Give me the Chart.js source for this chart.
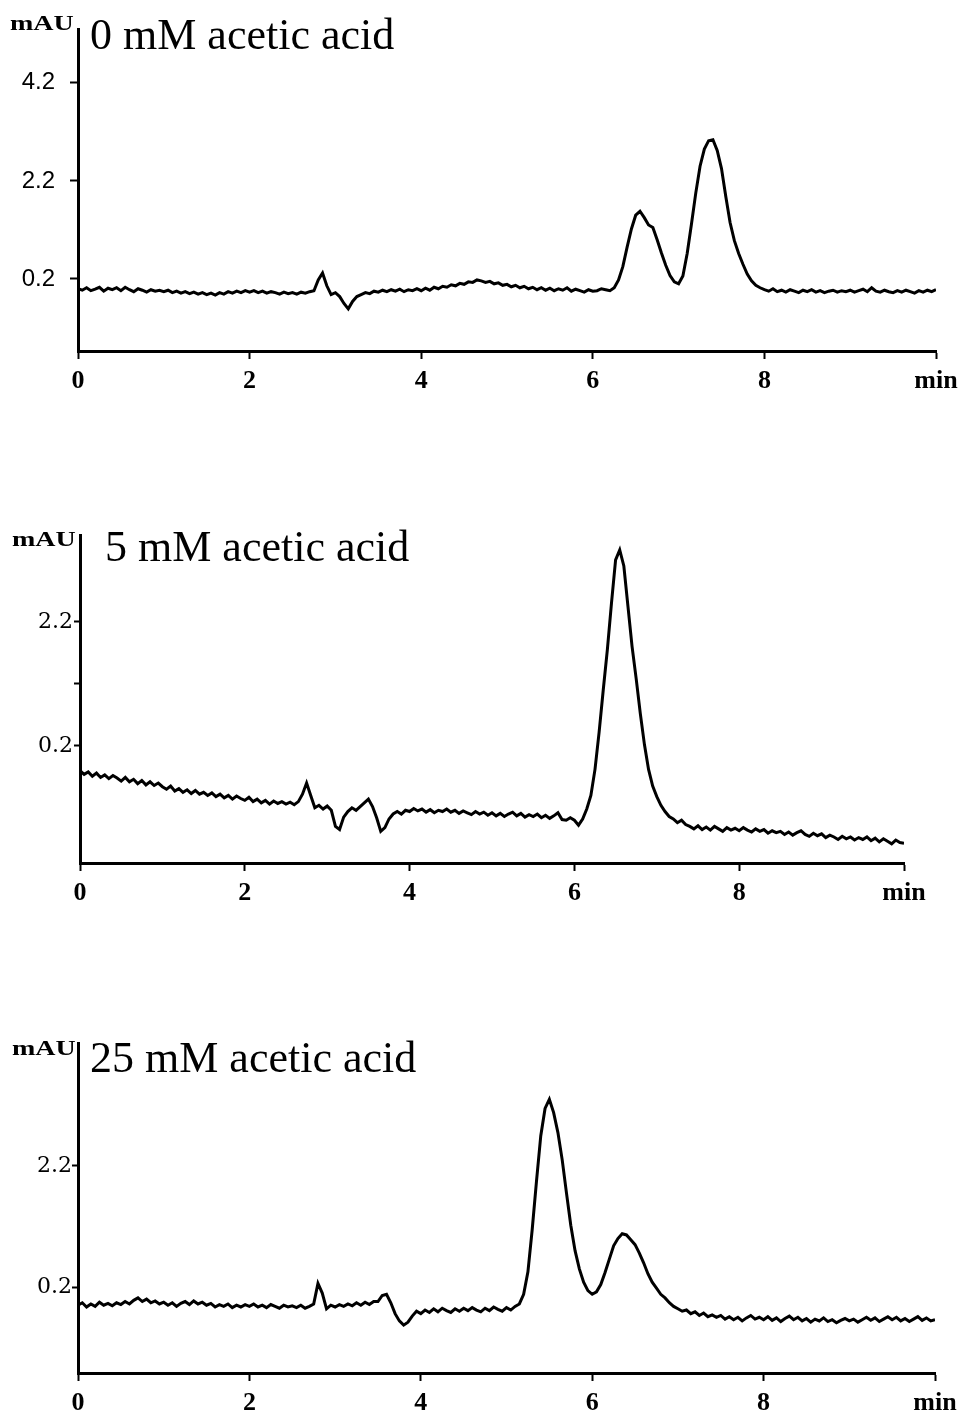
<!DOCTYPE html>
<html>
<head>
<meta charset="utf-8">
<title>Chromatograms with acetic acid</title>
<script src="https://cdn.jsdelivr.net/npm/chart.js@4.4.1/dist/chart.umd.min.js"></script>
<style>
	html, body { margin: 0; padding: 0; background: #fff; }
	body { position: relative; width: 966px; height: 1415px; overflow: hidden; }
	canvas { position: absolute; left: 0; }
	.title { position: absolute; font-family: "Liberation Serif", serif; font-size: 44px; line-height: 44px; white-space: nowrap; color: #000; }
	.unit { position: absolute; font-family: "Liberation Serif", serif; font-weight: bold; font-size: 20px; line-height: 20px; transform: scaleX(1.4); transform-origin: left top; white-space: nowrap; color: #000; }
</style>
</head>
<body>

<canvas id="chart0" width="966" height="410" style="top:0px"></canvas>
<canvas id="chart5" width="966" height="410" style="top:500px"></canvas>
<canvas id="chart25" width="966" height="405" style="top:1010px"></canvas>

<div class="unit" style="left:10px; top:13px">mAU</div>
<div class="title" style="left:90px; top:13px">0 mM acetic acid</div>
<div class="unit" style="left:12px; top:529px">mAU</div>
<div class="title" style="left:105px; top:525px">5 mM acetic acid</div>
<div class="unit" style="left:12px; top:1038px">mAU</div>
<div class="title" style="left:90px; top:1036px">25 mM acetic acid</div>

<script>
// detector trace sampled every 0.05 min from 0 to 10 min (201 samples)
const sampleStep = 0.05;

const xTicks = [0, 2, 4, 6, 8, 10];
const xTickLabels = ["0", "2", "4", "6", "8", "min"];

// 0 mM acetic acid (mAU)
const trace0mM = [
	0.00, -0.03, 0.02, -0.04, -0.01, 0.03, -0.05, 0.01, -0.02, 0.02,
	-0.04, 0.03, -0.02, -0.06, 0.00, -0.03, -0.07, -0.02, -0.05, -0.03,
	-0.06, -0.03, -0.08, -0.05, -0.09, -0.06, -0.10, -0.07, -0.11, -0.08,
	-0.12, -0.09, -0.13, -0.08, -0.11, -0.06, -0.09, -0.05, -0.08, -0.04,
	-0.07, -0.04, -0.08, -0.05, -0.09, -0.06, -0.08, -0.11, -0.07, -0.10,
	-0.08, -0.11, -0.07, -0.09, -0.06, -0.04, 0.18, 0.32, 0.06, -0.12,
	-0.08, -0.16, -0.30, -0.41, -0.26, -0.16, -0.12, -0.08, -0.10, -0.05,
	-0.07, -0.03, -0.06, -0.02, -0.05, -0.01, -0.06, -0.02, -0.04, 0.00,
	-0.04, 0.01, -0.03, 0.03, 0.00, 0.05, 0.03, 0.08, 0.06, 0.11,
	0.09, 0.14, 0.13, 0.18, 0.16, 0.13, 0.15, 0.10, 0.12, 0.07,
	0.09, 0.04, 0.07, 0.02, 0.05, 0.00, 0.03, -0.02, 0.02, -0.03,
	0.01, -0.04, 0.00, -0.03, 0.02, -0.05, -0.01, -0.04, -0.07, -0.02,
	-0.05, -0.04, 0.00, -0.02, -0.04, 0.02, 0.18, 0.45, 0.85, 1.22,
	1.50, 1.58, 1.45, 1.30, 1.25, 1.00, 0.73, 0.48, 0.27, 0.14,
	0.10, 0.26, 0.72, 1.32, 1.95, 2.50, 2.85, 3.02, 3.04, 2.82,
	2.45, 1.88, 1.35, 0.98, 0.72, 0.50, 0.30, 0.16, 0.07, 0.02,
	-0.02, -0.05, 0.00, -0.06, -0.03, -0.07, -0.02, -0.05, -0.08, -0.03,
	-0.06, -0.02, -0.07, -0.04, -0.08, -0.05, -0.03, -0.07, -0.04, -0.06,
	-0.03, -0.07, -0.04, -0.01, -0.06, 0.02, -0.05, -0.07, -0.03, -0.06,
	-0.08, -0.04, -0.07, -0.03, -0.06, -0.09, -0.04, -0.07, -0.03, -0.06,
	-0.02,
];

// 5 mM acetic acid (mAU)
const trace5mM = [
	-0.20, -0.26, -0.22, -0.29, -0.24, -0.31, -0.27, -0.33, -0.28, -0.32,
	-0.37, -0.31, -0.38, -0.34, -0.41, -0.36, -0.43, -0.38, -0.44, -0.40,
	-0.46, -0.50, -0.45, -0.53, -0.49, -0.55, -0.51, -0.57, -0.52, -0.58,
	-0.55, -0.60, -0.56, -0.62, -0.58, -0.64, -0.60, -0.66, -0.61, -0.65,
	-0.68, -0.63, -0.70, -0.66, -0.72, -0.68, -0.74, -0.69, -0.73, -0.70,
	-0.74, -0.71, -0.75, -0.70, -0.58, -0.40, -0.60, -0.80, -0.76, -0.82,
	-0.77, -0.84, -1.10, -1.15, -0.95, -0.86, -0.80, -0.84, -0.78, -0.72,
	-0.66, -0.78, -0.96, -1.18, -1.12, -0.98, -0.90, -0.86, -0.90, -0.84,
	-0.86, -0.81, -0.85, -0.82, -0.87, -0.83, -0.88, -0.84, -0.86, -0.82,
	-0.87, -0.84, -0.89, -0.85, -0.88, -0.91, -0.86, -0.90, -0.87, -0.92,
	-0.88, -0.93, -0.89, -0.94, -0.90, -0.87, -0.93, -0.89, -0.95, -0.91,
	-0.94, -0.90, -0.96, -0.92, -0.97, -0.93, -0.88, -0.99, -1.00, -0.96,
	-1.00, -1.08, -0.98, -0.82, -0.60, -0.18, 0.42, 1.10, 1.75, 2.50,
	3.20, 3.36, 3.10, 2.45, 1.80, 1.28, 0.72, 0.22, -0.18, -0.45,
	-0.62, -0.76, -0.86, -0.94, -0.98, -1.04, -1.00, -1.07, -1.10, -1.14,
	-1.09, -1.15, -1.11, -1.16, -1.10, -1.14, -1.18, -1.12, -1.16, -1.13,
	-1.17, -1.12, -1.16, -1.19, -1.14, -1.18, -1.15, -1.21, -1.17, -1.20,
	-1.18, -1.23, -1.19, -1.24, -1.20, -1.17, -1.23, -1.26, -1.21, -1.25,
	-1.22, -1.28, -1.24, -1.27, -1.31, -1.26, -1.30, -1.27, -1.32, -1.28,
	-1.31, -1.27, -1.33, -1.29, -1.35, -1.30, -1.34, -1.38, -1.32, -1.36,
	-1.37,
];

// 25 mM acetic acid (mAU)
const trace25mM = [
	-0.10, -0.06, -0.13, -0.08, -0.12, -0.05, -0.10, -0.07, -0.11, -0.06,
	-0.09, -0.04, -0.08, -0.02, 0.02, -0.04, 0.00, -0.06, -0.03, -0.08,
	-0.05, -0.10, -0.06, -0.12, -0.07, -0.04, -0.09, -0.03, -0.08, -0.05,
	-0.10, -0.07, -0.13, -0.09, -0.12, -0.08, -0.14, -0.10, -0.13, -0.09,
	-0.12, -0.08, -0.13, -0.10, -0.14, -0.09, -0.12, -0.15, -0.10, -0.13,
	-0.11, -0.14, -0.10, -0.15, -0.12, -0.08, 0.26, 0.10, -0.16, -0.10,
	-0.13, -0.09, -0.12, -0.08, -0.11, -0.06, -0.10, -0.05, -0.09, -0.04,
	-0.04, 0.06, 0.08, -0.06, -0.24, -0.36, -0.43, -0.38, -0.28, -0.20,
	-0.24, -0.18, -0.22, -0.16, -0.21, -0.15, -0.19, -0.22, -0.16, -0.20,
	-0.15, -0.19, -0.14, -0.18, -0.21, -0.15, -0.19, -0.13, -0.17, -0.20,
	-0.14, -0.18, -0.12, -0.08, 0.08, 0.45, 1.15, 1.95, 2.70, 3.15,
	3.30, 3.08, 2.75, 2.30, 1.75, 1.22, 0.80, 0.50, 0.28, 0.14,
	0.08, 0.12, 0.24, 0.44, 0.66, 0.88, 1.00, 1.08, 1.06, 0.98,
	0.90, 0.76, 0.60, 0.42, 0.28, 0.18, 0.08, 0.02, -0.06, -0.12,
	-0.16, -0.20, -0.18, -0.24, -0.21, -0.27, -0.23, -0.29, -0.26, -0.30,
	-0.27, -0.33, -0.29, -0.34, -0.30, -0.36, -0.31, -0.27, -0.33, -0.30,
	-0.34, -0.29, -0.35, -0.31, -0.37, -0.32, -0.28, -0.34, -0.30, -0.36,
	-0.32, -0.38, -0.33, -0.36, -0.31, -0.37, -0.34, -0.39, -0.35, -0.32,
	-0.36, -0.33, -0.38, -0.34, -0.30, -0.35, -0.31, -0.37, -0.33, -0.29,
	-0.34, -0.30, -0.36, -0.32, -0.37, -0.33, -0.29, -0.35, -0.31, -0.36,
	-0.34,
];

// y axis ticks per panel; an empty label means a bare tick mark
const yTicks0mM = [4.2, 2.2, 0.2];
const yTickLabels0mM = ["4.2", "2.2", "0.2"];
const yTicks5mM = [2.2, 1.2, 0.2];
const yTickLabels5mM = ["2.2", "", "0.2"];
const yTicks25mM = [2.2, 0.2];
const yTickLabels25mM = ["2.2", "0.2"];

function makeChart(canvasId, trace, yTicks, yTickLabels, frame) {
	var points = trace.map(function (v, i) {
		return { x: i * sampleStep, y: v };
	});

	return new Chart(document.getElementById(canvasId), {
		type: "line",
		data: {
			datasets: [
				{
					data: points,
					borderColor: "#000",
					borderWidth: 3,
					pointRadius: 0,
					tension: 0,
					fill: false,
				},
			],
		},
		options: {
			responsive: false,
			animation: false,
			events: [],
			layout: {
				padding: { left: 0, right: 966 - frame.right, top: frame.top, bottom: 0 },
			},
			plugins: {
				legend: { display: false },
				tooltip: { enabled: false },
			},
			scales: {
				x: {
					type: "linear",
					min: 0,
					max: 10,
					grid: { drawOnChartArea: false, tickLength: 8, tickWidth: 2, tickColor: "#000" },
					border: { display: true, color: "#000", width: 3 },
					afterBuildTicks: function (scale) {
						scale.ticks = xTicks.map(function (v) { return { value: v }; });
					},
					afterFit: function (scale) {
						scale.height = frame.xHeight;
					},
					ticks: {
						color: "#000",
						font: { family: "Liberation Serif", size: 26, weight: "bold" },
						padding: 7,
						maxRotation: 0,
						autoSkip: false,
						callback: function (value, index) {
							return xTickLabels[index];
						},
					},
				},
				y: {
					type: "linear",
					min: frame.yMin,
					max: frame.yMax,
					grid: { drawOnChartArea: false, tickLength: frame.yTickLength, tickWidth: 2, tickColor: "#000" },
					border: { display: true, color: "#000", width: 3 },
					afterBuildTicks: function (scale) {
						scale.ticks = yTicks.map(function (v) { return { value: v }; });
					},
					afterFit: function (scale) {
						scale.width = frame.left;
					},
					ticks: {
						color: "#000",
						font: frame.yFont,
						padding: frame.yPadding,
						autoSkip: false,
						callback: function (value, index) {
							return yTickLabels[index];
						},
					},
				},
			},
		},
	});
}

makeChart("chart0", trace0mM, yTicks0mM, yTickLabels0mM, {
	left: 78, right: 936, top: 20, xHeight: 59,
	yMin: -1.27, yMax: 5.29, yTickLength: 8, yPadding: 15,
	yFont: { family: "Liberation Sans", size: 24 },
});

makeChart("chart5", trace5mM, yTicks5mM, yTickLabels5mM, {
	left: 80, right: 904, top: 35, xHeight: 47,
	yMin: -1.69, yMax: 3.60, yTickLength: 6, yPadding: 1,
	yFont: { family: "DejaVu Serif", size: 22 },
});

makeChart("chart25", trace25mM, yTicks25mM, yTickLabels25mM, {
	left: 78, right: 935, top: 33, xHeight: 42,
	yMin: -1.22, yMax: 4.23, yTickLength: 6, yPadding: 0,
	yFont: { family: "DejaVu Serif", size: 22 },
});
</script>
</body>
</html>
